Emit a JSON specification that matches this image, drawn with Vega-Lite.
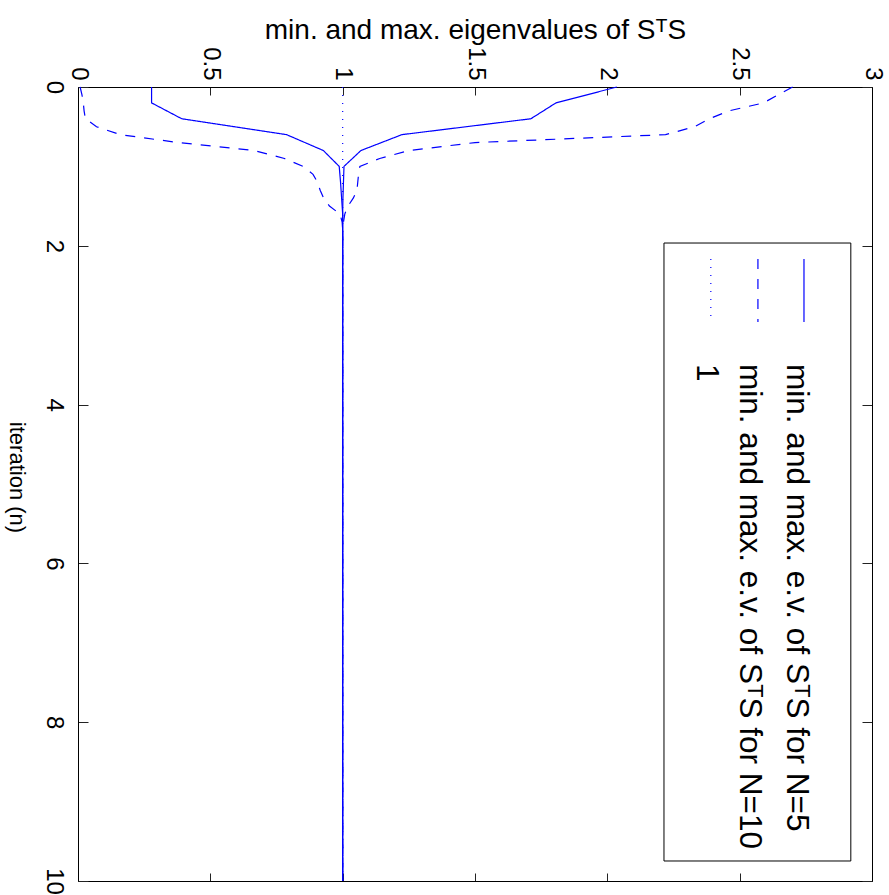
{
  "$schema": "https://vega.github.io/schema/vega-lite/v6.json",
  "width": 794,
  "height": 794,
  "autosize": {"type": "none"},
  "padding": {"left": 78, "top": 87, "right": 17, "bottom": 14},
  "background": "white",
  "config": {
    "view": {"stroke": null},
    "font": "Liberation Sans",
    "axis": {
      "grid": false,
      "domainColor": "black",
      "domainWidth": 1,
      "tickColor": "#222222",
      "labelColor": "black",
      "titleColor": "black",
      "labelFont": "Liberation Sans",
      "titleFont": "Liberation Sans",
      "titleFontWeight": "normal",
      "labelOverlap": false,
      "labelFlush": false
    }
  },
  "datasets": {
    "curves": [
      {"line": "one", "style": "dotted", "iter": 0, "value": 1},
      {"line": "one", "style": "dotted", "iter": 10, "value": 1},
      {"line": "n10max", "style": "dashed", "iter": 0, "value": 2.70},
      {"line": "n10max", "style": "dashed", "iter": 0.1, "value": 2.645},
      {"line": "n10max", "style": "dashed", "iter": 0.2, "value": 2.59},
      {"line": "n10max", "style": "dashed", "iter": 0.3, "value": 2.46},
      {"line": "n10max", "style": "dashed", "iter": 0.4, "value": 2.385},
      {"line": "n10max", "style": "dashed", "iter": 0.5, "value": 2.33},
      {"line": "n10max", "style": "dashed", "iter": 0.6, "value": 2.22},
      {"line": "n10max", "style": "dashed", "iter": 0.7, "value": 1.50},
      {"line": "n10max", "style": "dashed", "iter": 0.8, "value": 1.25},
      {"line": "n10max", "style": "dashed", "iter": 0.9, "value": 1.14},
      {"line": "n10max", "style": "dashed", "iter": 1.0, "value": 1.065},
      {"line": "n10max", "style": "dashed", "iter": 1.1, "value": 1.06},
      {"line": "n10max", "style": "dashed", "iter": 1.2, "value": 1.057},
      {"line": "n10max", "style": "dashed", "iter": 1.3, "value": 1.054},
      {"line": "n10max", "style": "dashed", "iter": 1.4, "value": 1.04},
      {"line": "n10max", "style": "dashed", "iter": 1.5, "value": 1.02},
      {"line": "n10max", "style": "dashed", "iter": 1.6, "value": 1.008},
      {"line": "n10max", "style": "dashed", "iter": 1.7, "value": 1.003},
      {"line": "n10max", "style": "dashed", "iter": 1.8, "value": 1.0},
      {"line": "n10max", "style": "dashed", "iter": 10, "value": 1.0},
      {"line": "n10min", "style": "dashed", "iter": 0, "value": 0.008},
      {"line": "n10min", "style": "dashed", "iter": 0.1, "value": 0.015},
      {"line": "n10min", "style": "dashed", "iter": 0.2, "value": 0.02},
      {"line": "n10min", "style": "dashed", "iter": 0.3, "value": 0.023},
      {"line": "n10min", "style": "dashed", "iter": 0.4, "value": 0.028},
      {"line": "n10min", "style": "dashed", "iter": 0.5, "value": 0.07},
      {"line": "n10min", "style": "dashed", "iter": 0.6, "value": 0.16},
      {"line": "n10min", "style": "dashed", "iter": 0.7, "value": 0.38},
      {"line": "n10min", "style": "dashed", "iter": 0.8, "value": 0.665},
      {"line": "n10min", "style": "dashed", "iter": 0.9, "value": 0.78},
      {"line": "n10min", "style": "dashed", "iter": 1.0, "value": 0.85},
      {"line": "n10min", "style": "dashed", "iter": 1.1, "value": 0.888},
      {"line": "n10min", "style": "dashed", "iter": 1.2, "value": 0.905},
      {"line": "n10min", "style": "dashed", "iter": 1.3, "value": 0.915},
      {"line": "n10min", "style": "dashed", "iter": 1.4, "value": 0.928},
      {"line": "n10min", "style": "dashed", "iter": 1.5, "value": 0.95},
      {"line": "n10min", "style": "dashed", "iter": 1.6, "value": 0.99},
      {"line": "n10min", "style": "dashed", "iter": 1.7, "value": 0.998},
      {"line": "n10min", "style": "dashed", "iter": 1.8, "value": 1.0},
      {"line": "n10min", "style": "dashed", "iter": 10, "value": 1.0},
      {"line": "n5max", "style": "solid", "iter": 0, "value": 2.036},
      {"line": "n5max", "style": "solid", "iter": 0.2, "value": 1.806},
      {"line": "n5max", "style": "solid", "iter": 0.4, "value": 1.711},
      {"line": "n5max", "style": "solid", "iter": 0.6, "value": 1.224},
      {"line": "n5max", "style": "solid", "iter": 0.8, "value": 1.069},
      {"line": "n5max", "style": "solid", "iter": 1.0, "value": 1.005},
      {"line": "n5max", "style": "solid", "iter": 1.2, "value": 1.003},
      {"line": "n5max", "style": "solid", "iter": 1.4, "value": 1.001},
      {"line": "n5max", "style": "solid", "iter": 1.6, "value": 1.0},
      {"line": "n5max", "style": "solid", "iter": 10, "value": 1.0},
      {"line": "n5min", "style": "solid", "iter": 0, "value": 0.278},
      {"line": "n5min", "style": "solid", "iter": 0.2, "value": 0.278},
      {"line": "n5min", "style": "solid", "iter": 0.4, "value": 0.392},
      {"line": "n5min", "style": "solid", "iter": 0.6, "value": 0.788},
      {"line": "n5min", "style": "solid", "iter": 0.8, "value": 0.927},
      {"line": "n5min", "style": "solid", "iter": 1.0, "value": 0.987},
      {"line": "n5min", "style": "solid", "iter": 1.2, "value": 0.992},
      {"line": "n5min", "style": "solid", "iter": 1.4, "value": 0.996},
      {"line": "n5min", "style": "solid", "iter": 1.6, "value": 1.0},
      {"line": "n5min", "style": "solid", "iter": 10, "value": 1.0}
    ]
  },
  "layer": [
    {
      "data": {"name": "curves"},
      "mark": {"type": "line", "color": "#0000ff", "strokeWidth": 1.2},
      "encoding": {
        "x": {
          "field": "value",
          "type": "quantitative",
          "scale": {"domain": [0, 3], "nice": false, "zero": false},
          "axis": {
            "orient": "top",
            "values": [0, 0.5, 1, 1.5, 2, 2.5, 3],
            "format": "~g",
            "labelAngle": 90,
            "labelAlign": "right",
            "labelBaseline": "middle",
            "labelFontSize": 24,
            "tickSize": -8,
            "labelPadding": 15,
            "title": "min. and max. eigenvalues of SᵀS",
            "titleFontSize": 28,
            "titleY": -49,
            "titleBaseline": "alphabetic"
          }
        },
        "y": {
          "field": "iter",
          "type": "quantitative",
          "scale": {"domain": [0, 10], "nice": false, "zero": false, "reverse": true},
          "axis": {
            "orient": "left",
            "values": [0, 2, 4, 6, 8, 10],
            "labelAngle": 90,
            "labelAlign": "center",
            "labelBaseline": "top",
            "labelFontSize": 24,
            "tickSize": -10,
            "labelPadding": 23,
            "title": "iteration (n)",
            "titleFontSize": 22,
            "titleAngle": 90,
            "titleX": -62,
            "titleY": 390,
            "titleAlign": "center",
            "titleBaseline": "middle"
          }
        },
        "detail": {"field": "line", "type": "nominal"},
        "order": {"field": "iter", "type": "quantitative"},
        "strokeDash": {
          "field": "style",
          "type": "nominal",
          "scale": {"domain": ["solid", "dashed", "dotted"], "range": [[1, 0], [10, 9], [1, 7]]},
          "legend": null
        }
      }
    },
    {
      "data": {"values": [{}]},
      "mark": {"type": "rect", "fill": "white", "stroke": "black", "strokeWidth": 1},
      "encoding": {
        "x": {
          "datum": 2.214,
          "type": "quantitative",
          "axis": {"orient": "bottom", "values": [0, 0.5, 1, 1.5, 2, 2.5, 3], "labels": false, "title": null, "tickSize": -8}
        },
        "x2": {"datum": 2.92},
        "y": {
          "datum": 1.965,
          "type": "quantitative",
          "axis": {"orient": "right", "values": [0, 2, 4, 6, 8, 10], "labels": false, "title": null, "tickSize": -10}
        },
        "y2": {"datum": 9.748}
      }
    },
    {
      "data": {"values": [{}]},
      "mark": {"type": "rule", "color": "#0000ff", "strokeWidth": 1.2},
      "encoding": {
        "x": {"datum": 2.743, "type": "quantitative", "axis": null},
        "y": {"datum": 2.166, "type": "quantitative", "axis": null},
        "y2": {"datum": 2.96}
      }
    },
    {
      "data": {"values": [{}]},
      "mark": {"type": "rule", "color": "#0000ff", "strokeWidth": 1.2, "strokeDash": [10, 10]},
      "encoding": {
        "x": {"datum": 2.569, "type": "quantitative", "axis": null},
        "y": {"datum": 2.166, "type": "quantitative", "axis": null},
        "y2": {"datum": 2.96}
      }
    },
    {
      "data": {"values": [{}]},
      "mark": {"type": "rule", "color": "#0000ff", "strokeWidth": 1.2, "strokeDash": [1, 7]},
      "encoding": {
        "x": {"datum": 2.391, "type": "quantitative", "axis": null},
        "y": {"datum": 2.166, "type": "quantitative", "axis": null},
        "y2": {"datum": 2.96}
      }
    },
    {
      "data": {"values": [{"label": "min. and max. e.v. of SᵀS for N=5"}]},
      "mark": {"type": "text", "angle": 90, "align": "left", "baseline": "middle", "fontSize": 31.5, "font": "Liberation Sans", "color": "black"},
      "encoding": {
        "x": {"datum": 2.713, "type": "quantitative", "axis": null},
        "y": {"datum": 3.49, "type": "quantitative", "axis": null},
        "text": {"field": "label"}
      }
    },
    {
      "data": {"values": [{"label": "min. and max. e.v. of SᵀS for N=10"}]},
      "mark": {"type": "text", "angle": 90, "align": "left", "baseline": "middle", "fontSize": 31.5, "font": "Liberation Sans", "color": "black"},
      "encoding": {
        "x": {"datum": 2.535, "type": "quantitative", "axis": null},
        "y": {"datum": 3.49, "type": "quantitative", "axis": null},
        "text": {"field": "label"}
      }
    },
    {
      "data": {"values": [{"label": "1"}]},
      "mark": {"type": "text", "angle": 90, "align": "left", "baseline": "middle", "fontSize": 31.5, "font": "Liberation Sans", "color": "black"},
      "encoding": {
        "x": {"datum": 2.373, "type": "quantitative", "axis": null},
        "y": {"datum": 3.49, "type": "quantitative", "axis": null},
        "text": {"field": "label"}
      }
    }
  ],
  "resolve": {"axis": {"x": "independent", "y": "independent"}}
}
